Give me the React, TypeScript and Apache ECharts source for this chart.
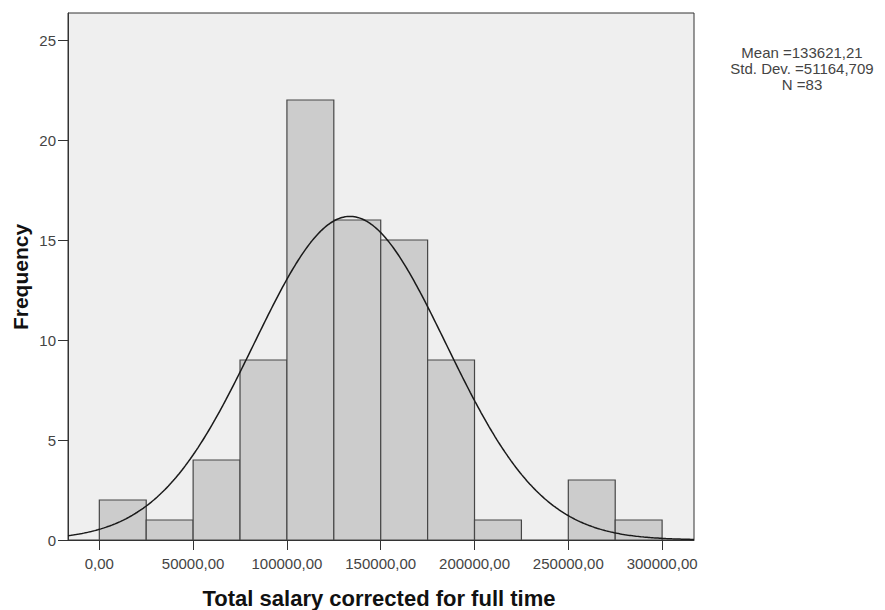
import React, { useEffect, useRef } from "react";
import * as echarts from "echarts";

// Histogram bins (lower edge, upper edge) and frequencies
const binStarts = [0, 25000, 50000, 75000, 100000, 125000, 150000, 175000, 200000, 225000, 250000, 275000];
const binWidth = 25000;
const frequencies = [2, 1, 4, 9, 22, 16, 15, 9, 1, 0, 3, 1];

// Tick values
const xTicks = [0, 50000, 100000, 150000, 200000, 250000, 300000];
const yTicks = [0, 5, 10, 15, 20, 25];

// Summary statistics shown on the chart
const MEAN = 133621.21;
const STD_DEV = 51164.709;
const N = 83;
const statLines = ["Mean =133621,21", "Std. Dev. =51164,709", "N =83"];

const X_MIN = -16700;
const X_MAX = 317000;
const Y_MAX = 26.35;

const FONT = "'Liberation Sans', Arial, sans-serif";

function normalCurve(): number[][] {
  const pts: number[][] = [];
  const steps = 400;
  for (let i = 0; i <= steps; i++) {
    const x = X_MIN + ((X_MAX - X_MIN) * i) / steps;
    const z = (x - MEAN) / STD_DEV;
    const y = (N * binWidth * Math.exp(-0.5 * z * z)) / (STD_DEV * Math.sqrt(2 * Math.PI));
    pts.push([x, y]);
  }
  return pts;
}

export default function App() {
  const ref = useRef<HTMLDivElement>(null);
  useEffect(() => {
    if (!ref.current) return;
    const chart = echarts.init(ref.current, undefined, { renderer: "svg" });
    const barData = binStarts.map((s, i) => [s, s + binWidth, frequencies[i]]);
    chart.setOption({
      animation: false,
      backgroundColor: "#ffffff",
      grid: {
        left: 68,
        top: 13,
        width: 626,
        height: 527,
        show: true,
        backgroundColor: "#efefef",
        borderColor: "#333333",
        borderWidth: 1,
      },
      xAxis: {
        type: "value",
        min: X_MIN,
        max: X_MAX,
        splitLine: { show: false },
        axisLine: { show: true, onZero: false, lineStyle: { color: "#333333", width: 1 } },
        axisTick: {
          show: true,
          customValues: xTicks,
          length: 10,
          lineStyle: { color: "#333333", width: 1 },
        },
        axisLabel: {
          customValues: xTicks,
          formatter: (v: number) => `${v},00`,
          fontSize: 15,
          color: "#444444",
          fontFamily: FONT,
          margin: 16,
        },
      },
      yAxis: {
        type: "value",
        min: 0,
        max: Y_MAX,
        splitLine: { show: false },
        axisLine: { show: true, onZero: false, lineStyle: { color: "#333333", width: 1 } },
        axisTick: {
          show: true,
          customValues: yTicks,
          length: 10,
          lineStyle: { color: "#333333", width: 1 },
        },
        axisLabel: {
          customValues: yTicks,
          fontSize: 15,
          color: "#444444",
          fontFamily: FONT,
          margin: 12,
          padding: [7, 0, 0, 0],
        },
      },
      series: [
        {
          type: "custom",
          clip: true,
          data: barData,
          encode: { x: [0, 1], y: 2 },
          renderItem: (params: any, api: any) => {
            const x0 = api.value(0);
            const x1 = api.value(1);
            const c = api.value(2);
            if (!c) return null;
            const p0 = api.coord([x0, c]);
            const p1 = api.coord([x1, 0]);
            return {
              type: "rect",
              shape: { x: p0[0], y: p0[1], width: p1[0] - p0[0], height: p1[1] - p0[1] },
              style: { fill: "#cccccc", stroke: "#474747", lineWidth: 1.2 },
            };
          },
          z: 2,
        },
        {
          type: "line",
          data: normalCurve(),
          showSymbol: false,
          symbol: "none",
          smooth: false,
          lineStyle: { color: "#1a1a1a", width: 1.5 },
          z: 3,
        },
      ],
      graphic: [
        {
          type: "text",
          x: 379,
          y: 598,
          style: {
            text: "Total salary corrected for full time",
            fontSize: 22,
            fontWeight: "bold",
            fontFamily: FONT,
            fill: "#111111",
            textAlign: "center",
            textVerticalAlign: "middle",
          },
        },
        {
          type: "text",
          x: 20,
          y: 277,
          rotation: Math.PI / 2,
          style: {
            text: "Frequency",
            fontSize: 21,
            fontWeight: "bold",
            fontFamily: FONT,
            fill: "#111111",
            textAlign: "center",
            textVerticalAlign: "middle",
          },
        },
        {
          type: "text",
          x: 802,
          y: 68,
          style: {
            text: statLines.join("\n"),
            fontSize: 15,
            lineHeight: 16,
            fontFamily: FONT,
            fill: "#444444",
            textAlign: "center",
            textVerticalAlign: "middle",
          },
        },
      ],
    });
    return () => chart.dispose();
  }, []);
  return (
    <div
      ref={ref}
      style={{ position: "fixed", left: 0, top: 0, width: 885, height: 610 }}
    />
  );
}
